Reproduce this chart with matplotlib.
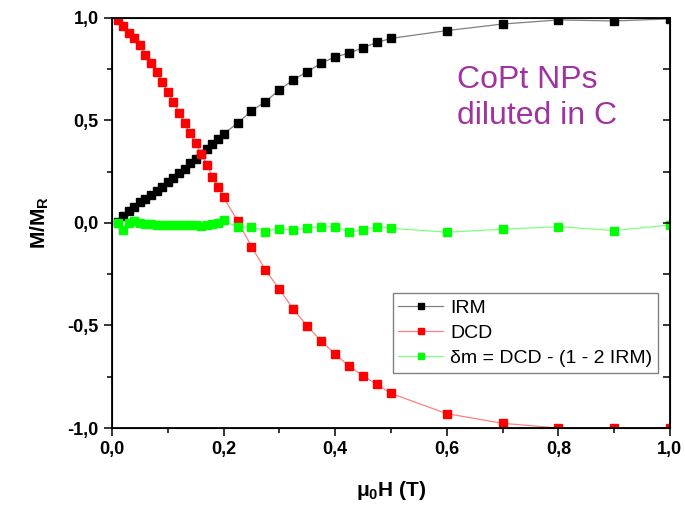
import numpy as np
import matplotlib
matplotlib.use("Agg")
import matplotlib.pyplot as plt
from matplotlib.ticker import MultipleLocator

plt.rcParams['font.family'] = ['Liberation Sans', 'DejaVu Sans']
plt.rcParams['mathtext.fontset'] = 'custom'
plt.rcParams['mathtext.rm'] = 'Liberation Sans:bold'
plt.rcParams['mathtext.it'] = 'Liberation Sans:bold'
plt.rcParams['mathtext.bf'] = 'Liberation Sans:bold'

# field values (T)
h_irm = [0.01, 0.02, 0.03, 0.04, 0.05, 0.06, 0.07, 0.08, 0.09, 0.10,
         0.11, 0.12, 0.13, 0.14, 0.15, 0.16, 0.17, 0.18, 0.19, 0.20,
         0.225, 0.25, 0.275, 0.30, 0.325, 0.35, 0.375, 0.40, 0.425, 0.45,
         0.475, 0.50, 0.6, 0.7, 0.8, 0.9, 1.0]
irm = [0.005, 0.035, 0.06, 0.08, 0.10, 0.118, 0.137, 0.157, 0.177, 0.198,
       0.22, 0.243, 0.265, 0.29, 0.313, 0.336, 0.36, 0.385, 0.41, 0.435,
       0.486, 0.546, 0.592, 0.649, 0.698, 0.738, 0.779, 0.81, 0.828, 0.855,
       0.88, 0.90, 0.938, 0.97, 0.99, 0.985, 0.995]

h_dcd = h_irm
dcd = [0.99, 0.958, 0.925, 0.90, 0.868, 0.82, 0.779, 0.738, 0.689, 0.64,
       0.592, 0.538, 0.486, 0.437, 0.389, 0.335, 0.283, 0.226, 0.177, 0.125,
       0.011, -0.115, -0.229, -0.323, -0.421, -0.502, -0.576, -0.64, -0.698, -0.746,
       -0.787, -0.831, -0.93, -0.977, -1.0, -1.0, -1.0]

h_dm = h_irm
dm = [0.0, -0.035, 0.0, 0.01, 0.0, -0.005, -0.005, -0.008, -0.01, -0.01,
      -0.012, -0.012, -0.01, -0.01, -0.01, -0.015, -0.012, -0.005, 0.0, 0.012,
      -0.021, -0.018, -0.042, -0.029, -0.034, -0.026, -0.018, -0.018, -0.045, -0.034,
      -0.018, -0.026, -0.045, -0.031, -0.018, -0.037, -0.01]

xticks = [0.0, 0.2, 0.4, 0.6, 0.8, 1.0]
xticklabels = ['0,0', '0,2', '0,4', '0,6', '0,8', '1,0']
yticks = [-1.0, -0.5, 0.0, 0.5, 1.0]
yticklabels = ['-1,0', '-0,5', '0,0', '0,5', '1,0']

fig = plt.figure(figsize=(6.85, 5.11), dpi=100)
ax = fig.add_axes([0.1635, 0.1624, 0.8145, 0.8026])

ax.plot(h_irm, irm, '-s', color='#808080', lw=0.9, ms=6.2,
        mfc='black', mec='black', label='IRM')
ax.plot(h_dcd, dcd, '-s', color='#ff8080', lw=0.9, ms=6.2,
        mfc='#ff0000', mec='#ff0000', label='DCD')
ax.plot(h_dm, dm, '-s', color='#80ff80', lw=0.9, ms=6.2,
        mfc='#00ff00', mec='#00ff00', label='\u03b4m = DCD - (1 - 2 IRM)')

ax.set_xlim(0, 1.0)
ax.set_ylim(-1.0, 1.0)
ax.set_xticks(xticks)
ax.set_xticklabels(xticklabels)
ax.set_yticks(yticks)
ax.set_yticklabels(yticklabels)
ax.xaxis.set_minor_locator(MultipleLocator(0.1))
ax.yaxis.set_minor_locator(MultipleLocator(0.25))

for s in ax.spines.values():
    s.set_linewidth(1.3)

ax.tick_params(which='both', direction='out', top=False, right=False, width=1.1)
ax.tick_params(which='major', length=6)
ax.tick_params(which='minor', length=3.5)
ax.tick_params(labelsize=13)
for lab in ax.get_xticklabels() + ax.get_yticklabels():
    lab.set_fontweight('bold')

# inward ticks on the right side
ax2 = ax.twinx()
ax2.set_ylim(-1.0, 1.0)
ax2.set_yticks(yticks)
ax2.yaxis.set_minor_locator(MultipleLocator(0.25))
ax2.tick_params(which='both', direction='in', length=5, width=1.1, labelright=False)

ax.set_xlabel('\u03bc$_0$H (T)', fontsize=15, fontweight='bold', labelpad=15)
ax.set_ylabel('M/M$_{\\mathrm{R}}$', fontsize=15, fontweight='bold', labelpad=12)

ax.text(0.618, 0.885, 'CoPt NPs\ndiluted in C', transform=ax.transAxes,
        fontsize=23, color='#a033a0', ha='left', va='top', linespacing=1.28)

leg = ax.legend(loc='upper right', bbox_to_anchor=(0.9785, 0.329),
                prop={'size': 14}, markerscale=0.65,
                fancybox=False, framealpha=1, edgecolor='#808080',
                handlelength=2.3, labelspacing=0.4, borderpad=0.3,
                handletextpad=0.35, borderaxespad=0)
leg.get_frame().set_linewidth(1.0)

fig.savefig('out.png', dpi=100)
